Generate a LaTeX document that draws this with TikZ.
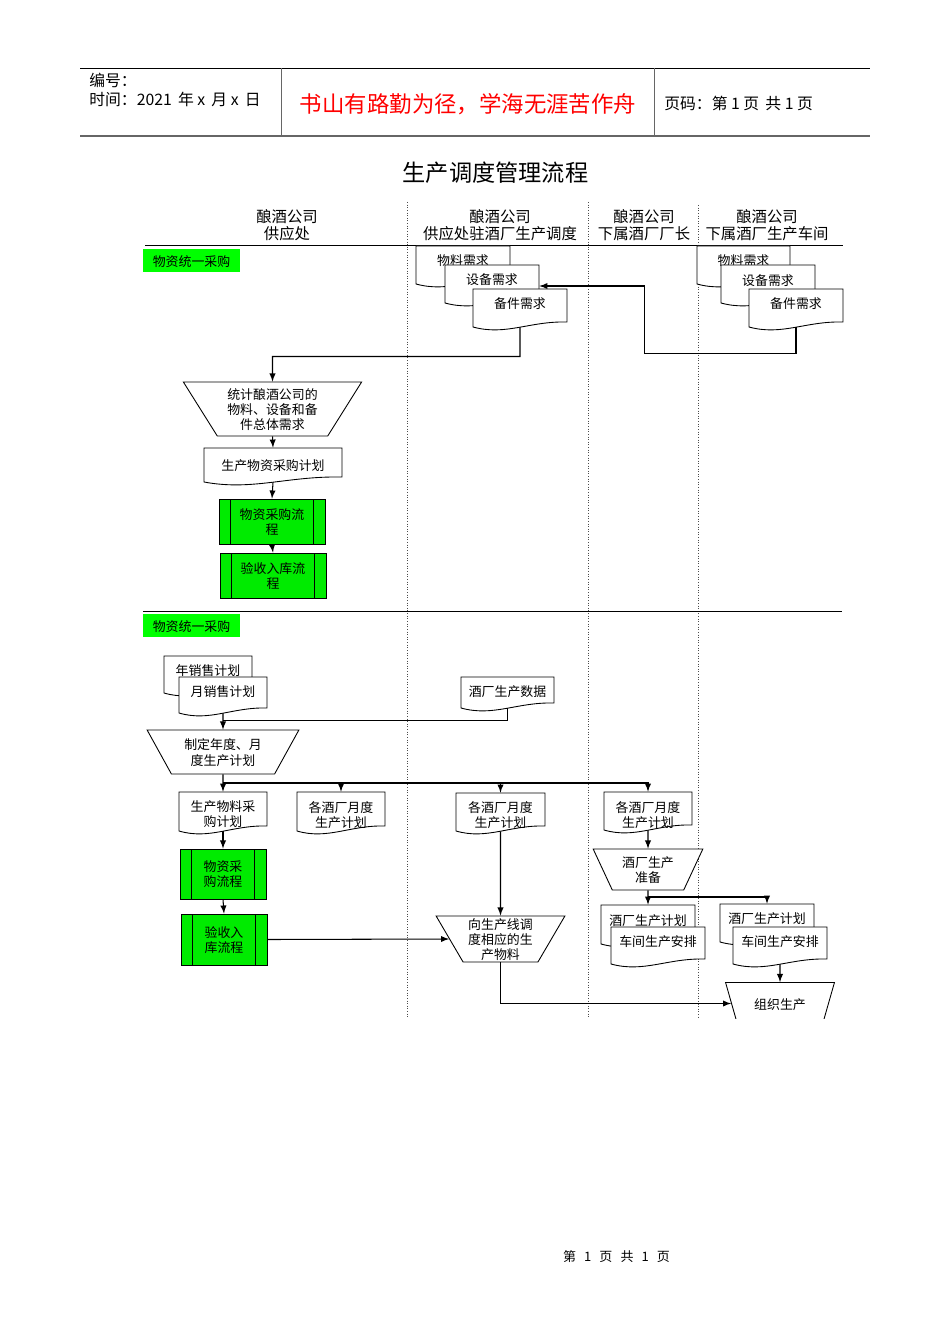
\documentclass[tikz,border=0pt]{standalone}
\usepackage{fontspec}
\setmainfont{Noto Sans CJK SC}
\usepackage{xcolor}
\usetikzlibrary{shapes.geometric}
\definecolor{labelgreen}{RGB}{0,255,0}
\definecolor{procgreen}{RGB}{0,235,0}
\tikzset{
    >=latex,
    flow/.style={draw=black, line width=0.6pt, ->},
    busline/.style={draw=black, line width=1pt},
    rule/.style={draw=black, line width=0.5pt},
    lane/.style={draw=black!70, line width=0.5pt, densely dotted},
    smalltext/.style={font=\fontsize{7.35}{8.6}\selectfont, align=center, inner sep=0pt, execute at begin node={\rule{0pt}{7pt}}},
    headtext/.style={font=\fontsize{8.75}{9.7}\selectfont, align=center, inner sep=0pt},
    lowtext/.style={text depth=-1.2pt},
    greentag/.style={fill=labelgreen, minimum width=1.94cm, minimum height=0.46cm, smalltext, execute at begin node={}},
    procbox/.style={draw=black, line width=0.5pt, fill=procgreen, smalltext, lowtext, minimum width=#1*0.02cm,
        path picture={
            \draw[line width=0.5pt] ([xshift=0.23cm]path picture bounding box.north west) -- ([xshift=0.23cm]path picture bounding box.south west);
            \draw[line width=0.5pt] ([xshift=-0.23cm]path picture bounding box.north east) -- ([xshift=-0.23cm]path picture bounding box.south east);
        }},
    trapbox/.style={shape=trapezium, shape border rotate=180, trapezium stretches=true, draw=black, line width=0.5pt,
        fill=white, smalltext}
}
\newcommand{\docbox}[7]{
    \draw[line width=0.5pt, fill=white] (#2,#3) -- (#4,#3) -- (#4,#5) .. controls ({#2+0.6*(#4-#2)},{#5-1}) and ({#2+0.35*(#4-#2)},{#5+14}) .. (#2,{#5+5}) -- cycle;
    \node[inner sep=0pt, minimum width={(#4-#2)*0.02cm}, minimum height={(#5+5-#3)*0.02cm}] (#1) at ({(#2+#4)/2},{(#3+#5+5)/2}) {};
    \node[smalltext] (#1t) at ({(#2+#4)/2},#6) {#7};
}
\begin{document}
\begin{tikzpicture}[x=0.02cm, y=-0.02cm]

            \useasboundingbox (0,0) rectangle (950,1344);
            \fill[white] (0,0) rectangle (950,1344);

            \coordinate (topL) at (80,68);
            \coordinate (topR) at (870,68);
            \coordinate (lowL) at (80,136);
            \coordinate (lowR) at (870,136);
            \coordinate (sepA) at (281,68);
            \coordinate (sepAe) at (281,136);
            \coordinate (sepB) at (654,68);
            \coordinate (sepBe) at (654,136);
            \draw[rule] (topL) -- (topR);
            \draw[black!60, line width=0.8pt] (lowL) -- (lowR);
            \draw[black!60, line width=0.5pt] (sepA) -- (sepAe);
            \draw[black!60, line width=0.5pt] (sepB) -- (sepBe);

            \node[headtext, anchor=west, font=\fontsize{9}{10}\selectfont] (serial) at (89,80) {编号：};
            \node[headtext, anchor=west, font=\fontsize{9}{10}\selectfont] (dateline) at (89,99) {时间：2021\, 年 x\, 月 x\, 日};
            \node[inner sep=0pt, text=red, font=\fontsize{12.75}{14}\selectfont] (motto) at (468,104.5) {书山有路勤为径，学海无涯苦作舟};
            \node[headtext, anchor=west, font=\fontsize{9}{10}\selectfont] (pageline) at (664,103) {页码：第 1 页 \,共 1 页};
            \node[inner sep=0pt, font=\fontsize{13.2}{15}\selectfont] (title) at (495.5,173) {生产调度管理流程};

            \node[headtext] (colA) at (287,225.5) {酿酒公司\\供应处};
            \node[headtext] (colB) at (500,225.5) {酿酒公司\\供应处驻酒厂生产调度};
            \node[headtext] (colC) at (644,225.5) {酿酒公司\\下属酒厂厂长};
            \node[headtext] (colD) at (767,225.5) {酿酒公司\\下属酒厂生产车间};

            \coordinate (laneAt) at (407,202);
            \coordinate (laneAb) at (407,1018);
            \coordinate (laneBt) at (588,202);
            \coordinate (laneBb) at (588,1018);
            \coordinate (laneCt) at (698,205);
            \coordinate (laneCb) at (698,1018);
            \draw[lane] (laneAt) -- (laneAb);
            \draw[lane] (laneBt) -- (laneBb);
            \draw[lane] (laneCt) -- (laneCb);

            \coordinate (ruleAl) at (145,245);
            \coordinate (ruleAr) at (843,245);
            \coordinate (ruleBl) at (143,611);
            \coordinate (ruleBr) at (842,611);
            \draw[rule] (ruleAl) -- (ruleAr);
            \draw[rule] (ruleBl) -- (ruleBr);

            \node[greentag] (tagA) at (191.5,260.5) {物资统一采购};
            \node[greentag] (tagB) at (191.5,625.5) {物资统一采购};

            \docbox{needA}{416}{246}{510}{279}{260}{物料需求}
            \docbox{needB}{445}{265}{539}{298}{279}{设备需求}
            \docbox{needC}{473}{289}{567}{322}{303}{备件需求}
            \docbox{shopA}{697}{246}{790}{279}{260}{物料需求}
            \docbox{shopB}{721}{265}{815}{298}{280}{设备需求}
            \docbox{shopC}{749}{289}{843}{322}{303}{备件需求}

            \node[trapbox, lowtext, minimum width=3.58cm, minimum height=1.08cm, trapezium left angle=56, trapezium right angle=56] (sumup) at (272.5,409) {统计酿酒公司的\\物料、设备和备\\件总体需求};
            \docbox{buyplan}{204}{448}{342}{477}{465}{生产物资采购计划}
            \node[procbox=106, minimum height=0.9cm] (buyflow) at (272,521.5) {物资采购流\\程};
            \node[procbox=106, minimum height=0.9cm] (storeflow) at (273,575.5) {验收入库流\\程};

            \coordinate (turnA) at (272.5,356.5);
            \coordinate (turnB) at (644.5,353.5);
            \draw[flow] (needC.south) |- (turnA) -- (sumup.north);
            \draw[flow] (shopC.south) |- (turnB) |- ([yshift=-0.04cm]needB.east);
            \draw[flow] (sumup.south) -- (buyplan.north);
            \draw[flow] (buyplan.south) -- (buyflow.north);
            \draw[flow] (buyflow.south) -- (storeflow.north);

            \docbox{yearplan}{164}{656}{252}{688}{670}{年销售计划}
            \docbox{monthplan}{179}{677}{267}{708}{691}{月销售计划}
            \docbox{factdata}{461}{677}{554}{703}{691}{酒厂生产数据}
            \node[trapbox, lowtext, minimum width=3.04cm, minimum height=0.88cm, trapezium left angle=55, trapezium right angle=55] (setplan) at (223,752) {制定年度、月\\度生产计划};

            \coordinate (joinA) at (223,720.5);
            \draw[flow] (monthplan.south) -- (setplan.north);
            \draw[line width=0.6pt] (factdata.south) |- (joinA);

            \docbox{planA}{179}{792}{267}{826}{814.5}{生产物料采\\购计划}
            \docbox{planB}{297}{792}{385}{826}{815}{各酒厂月度\\生产计划}
            \docbox{planC}{456}{793}{545}{826}{815}{各酒厂月度\\生产计划}
            \docbox{planD}{604}{792}{692}{825}{815}{各酒厂月度\\生产计划}

            \coordinate (busA) at (223,783);
            \draw[flow] (setplan.south) -- (planA.north);
            \draw[busline] (busA) -- (648,783);
            \draw[flow] (busA) -| (planB.north);
            \draw[flow] (busA) -| (planC.north);
            \draw[flow] (busA) -| (planD.north);

            \node[procbox=86, minimum height=1cm] (buyflowB) at (223,874) {物资采\\购流程};
            \node[procbox=86, minimum height=1.02cm] (storeflowB) at (224,939.5) {验收入\\库流程};
            \node[trapbox, lowtext, minimum width=2.58cm, minimum height=0.92cm, trapezium left angle=60.5, trapezium right angle=60.5] (material) at (500.5,939) {向生产线调\\度相应的生\\产物料};

            \draw[flow] (planA.south) -- (buyflowB.north);
            \draw[flow] (buyflowB.south) -- (storeflowB.north);
            \draw[flow] (storeflowB.east) -- (material.west);
            \draw[flow] (planC.south) -- (material.north);

            \node[trapbox, lowtext, minimum width=2.2cm, minimum height=0.82cm, trapezium left angle=62, trapezium right angle=62] (prepare) at (648,869.5) {酒厂生产\\准备};
            \docbox{factA}{601}{905}{695}{939}{919.5}{酒厂生产计划}
            \docbox{arrangeA}{611}{927}{705}{959}{941}{车间生产安排}
            \docbox{factB}{720}{904}{814}{937}{918}{酒厂生产计划}
            \docbox{arrangeB}{733}{927}{827}{959}{941}{车间生产安排}

            \begin{scope}
                \clip (0,0) rectangle (950,1018);
                \node[trapbox, minimum width=2.18cm, minimum height=0.84cm, trapezium left angle=61.5, trapezium right angle=61.5] (organize) at (780,1003.5) {组织生产};
            \end{scope}

            \coordinate (busB) at (648,897);
            \draw[flow] (planD.south) -- (prepare.north);
            \draw[flow] (prepare.south) -- (factA.north);
            \draw[flow] (busB) -| (factB.north);
            \draw[flow] (arrangeB.south) -- (organize.north);
            \draw[flow] (material.south) |- (organize.west);

            \node[inner sep=0pt, font=\fontsize{7.4}{9}\selectfont] (footer) at (616.5,1256.5) {第\hspace{4.6pt}1\hspace{4.6pt}页\hspace{4.6pt}共\hspace{4.6pt}1\hspace{4.6pt}页};

        \end{tikzpicture}
\end{document}
